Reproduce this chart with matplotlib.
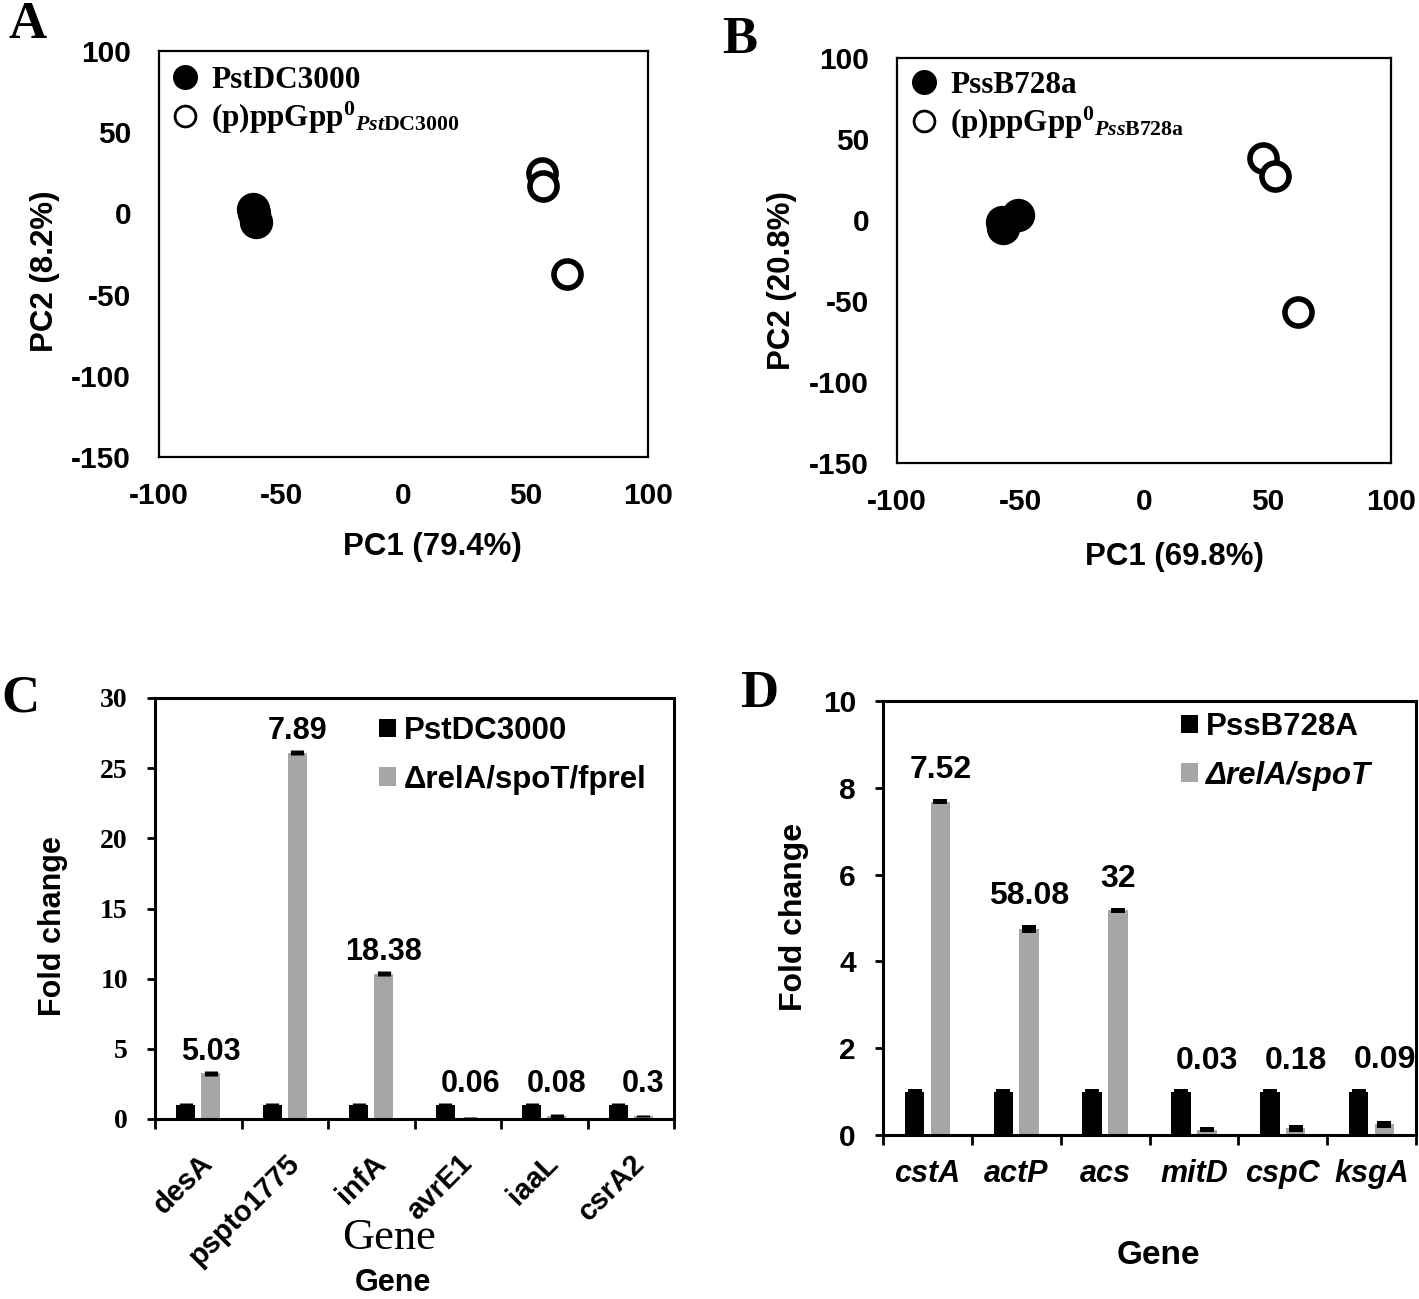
import numpy as np
import matplotlib
matplotlib.use("Agg")
import matplotlib.pyplot as plt
from matplotlib.lines import Line2D

plt.rcParams['font.family'] = ['Liberation Sans', 'DejaVu Sans']
plt.rcParams['font.weight'] = 'bold'
plt.rcParams['axes.labelweight'] = 'bold'
plt.rcParams['axes.unicode_minus'] = False
plt.rcParams['mathtext.fontset'] = 'custom'
plt.rcParams['mathtext.rm'] = 'Liberation Serif:bold'
plt.rcParams['mathtext.it'] = 'Liberation Serif:italic:bold'
plt.rcParams['mathtext.bf'] = 'Liberation Serif:bold'

SERIF = ['Liberation Serif', 'DejaVu Serif']
GREY = '#a6a6a6'

# A: PCA of PstDC3000 vs its (p)ppGpp0 mutant
a_wt_pc1 = [-61.5, -61.0, -60.5]
a_wt_pc2 = [3.0, 0.0, -5.0]
a_mut_pc1 = [56.5, 57.0, 67.0]
a_mut_pc2 = [25.0, 17.0, -37.5]
a_names = ['PstDC3000', r'(p)ppGpp$^{0}{}_{\mathit{Pst}\mathrm{DC3000}}$']

# B: PCA of PssB728a vs its (p)ppGpp0 mutant
b_wt_pc1 = [-51.0, -57.5, -57.0]
b_wt_pc2 = [3.0, -1.5, -5.0]
b_mut_pc1 = [48.0, 53.0, 62.5]
b_mut_pc2 = [38.5, 27.0, -56.5]
b_names = ['PssB728a', r'(p)ppGpp$^{0}{}_{\mathit{Pss}\mathrm{B728a}}$']

pc_xticks = [-100, -50, 0, 50, 100]
pc_yticks = [-150, -100, -50, 0, 50, 100]

# C: qRT-PCR fold change, Pst
c_genes = ['desA', 'pspto1775', 'infA', 'avrE1', 'iaaL', 'csrA2']
c_wt = [1.0, 1.0, 1.0, 1.0, 1.0, 1.0]
c_wt_err = [0.15, 0.15, 0.15, 0.15, 0.15, 0.15]
c_mut = [3.25, 26.1, 10.35, 0.08, 0.22, 0.22]
c_mut_err = [0.18, 0.18, 0.18, 0.05, 0.12, 0.1]
c_notes = ['5.03', '7.89', '18.38', '0.06', '0.08', '0.3']
c_names = ['PstDC3000', '\u0394relA/spoT/fprel']
c_yticks = [0, 5, 10, 15, 20, 25, 30]

# D: qRT-PCR fold change, Pss
d_genes = ['cstA', 'actP', 'acs', 'mitD', 'cspC', 'ksgA']
d_wt = [1.0, 1.0, 1.0, 1.0, 1.0, 1.0]
d_wt_err = [0.06, 0.06, 0.06, 0.05, 0.05, 0.07]
d_mut = [7.68, 4.74, 5.18, 0.12, 0.15, 0.25]
d_mut_err = [0.06, 0.09, 0.06, 0.06, 0.07, 0.08]
d_notes = ['7.52', '58.08', '32', '0.03', '0.18', '0.09']
d_names = ['PssB728A', '\u0394relA/spoT']
d_yticks = [0, 2, 4, 6, 8, 10]

W, H = 1419, 1299
fig = plt.figure(figsize=(W / 100, H / 100), dpi=100)

A_BOX = (159, 51, 648, 457)
B_BOX = (897, 58, 1391, 463)
C_BOX = (155, 698, 674, 1119)
D_BOX = (883, 701, 1416, 1135)


def add_ax(box):
    l, t, r, b = box
    return fig.add_axes([l / W, 1 - b / H, (r - l) / W, (b - t) / H])


def to_ax(box, px, py):
    l, t, r, b = box
    return (px - l) / (r - l), (b - py) / (b - t)


def pca_panel(ax, box, wt_x, wt_y, mut_x, mut_y, names, xlabel, ylabel, xl_pos, yl_pos, leg_pos):
    ax.plot(wt_x, wt_y, ls='none', marker='o', ms=23, mfc='black', mec='black', zorder=3)
    ax.plot(mut_x, mut_y, ls='none', marker='o', ms=19.5, mfc='white', mec='black', mew=4, zorder=3)
    ax.set_xlim(-100, 100)
    ax.set_ylim(-150, 100)
    ax.set_xticks(pc_xticks)
    ax.set_yticks(pc_yticks)
    ax.tick_params(length=0, labelsize=21.5)
    ax.tick_params(axis='x', pad=18)
    ax.tick_params(axis='y', pad=20)
    for s in ax.spines.values():
        s.set_linewidth(1.6)
    ax.set_xlabel(xlabel, fontsize=22.5, va='center')
    ax.set_ylabel(ylabel, fontsize=22.5, va='center')
    ax.xaxis.set_label_coords(*to_ax(box, *xl_pos))
    ax.yaxis.set_label_coords(*to_ax(box, *yl_pos))
    handles = [Line2D([], [], ls='none', marker='o', ms=17, mfc='black', mec='black'),
               Line2D([], [], ls='none', marker='o', ms=15, mfc='white', mec='black', mew=2)]
    ax.legend(handles, names, loc='upper left', bbox_to_anchor=to_ax(box, *leg_pos),
              frameon=False, borderpad=0, borderaxespad=0, handlelength=0.8,
              handletextpad=0.45, labelspacing=0.16,
              prop=dict(family=SERIF, weight='bold', size=22.5))


def bar_panel(ax, box, genes, wt, wt_err, mut, mut_err, notes, names, yticks, err_w,
              note_pad, note_size, leg_pos, leg_sp, leg_size):
    x = np.arange(len(genes))
    # thick error bars without caps look like the solid blocks of the original
    ek = dict(ecolor='black', elinewidth=err_w, capsize=0)
    ax.bar(x - 0.145, wt, 0.22, yerr=wt_err, color='black', error_kw=ek, label=names[0])
    ax.bar(x + 0.145, mut, 0.22, yerr=mut_err, color=GREY, error_kw=ek, label=names[1])
    for i, txt in enumerate(notes):
        top = max(wt[i] + wt_err[i], mut[i] + mut_err[i])
        ax.annotate(txt, (x[i] + 0.145, top), xytext=(0, note_pad), textcoords='offset points',
                    ha='center', va='bottom', fontsize=note_size)
    ax.set_xlim(-0.5, len(genes) - 0.5)
    ax.set_ylim(yticks[0], yticks[-1])
    ax.set_xticks(np.arange(len(genes) + 1) - 0.5)
    ax.set_xticklabels([])
    ax.tick_params(axis='x', which='major', direction='out', length=7, width=2)
    ax.tick_params(axis='x', which='minor', length=0)
    ax.tick_params(axis='y', direction='out', length=5.5, width=2, pad=14)
    for s in ax.spines.values():
        s.set_linewidth(2.2)
    leg = ax.legend(loc='upper left', bbox_to_anchor=to_ax(box, *leg_pos), frameon=False,
                    borderpad=0, borderaxespad=0, handlelength=0.55, handleheight=0.55,
                    handletextpad=0.25, labelspacing=leg_sp, fontsize=leg_size)
    return leg


# panels A and B
ax_a = add_ax(A_BOX)
pca_panel(ax_a, A_BOX, a_wt_pc1, a_wt_pc2, a_mut_pc1, a_mut_pc2, a_names,
          'PC1 (79.4%)', 'PC2 (8.2%)', (432, 547), (45, 271), (172, 66))
ax_b = add_ax(B_BOX)
pca_panel(ax_b, B_BOX, b_wt_pc1, b_wt_pc2, b_mut_pc1, b_mut_pc2, b_names,
          'PC1 (69.8%)', 'PC2 (20.8%)', (1174, 557), (782, 281), (911, 71))

# panel C
ax_c = add_ax(C_BOX)
bar_panel(ax_c, C_BOX, c_genes, c_wt, c_wt_err, c_mut, c_mut_err, c_notes, c_names,
          c_yticks, 9.5, 3, 22, (379, 716), 0.6, 22.5)
ax_c.set_yticks(c_yticks, [str(v) for v in c_yticks], fontfamily=SERIF, fontsize=20)
ax_c.set_xticks(np.arange(len(c_genes)), c_genes, minor=True, rotation=45, ha='right',
                va='top', rotation_mode='anchor', fontsize=21)
ax_c.tick_params(axis='x', which='minor', pad=22)
ax_c.set_ylabel('Fold change', fontsize=22, va='center')
ax_c.yaxis.set_label_coords(*to_ax(C_BOX, 53, 926))
fig.text(389 / W, 1 - 1238 / H, 'Gene', family=SERIF, weight='normal', fontsize=32,
         ha='center', va='center')
fig.text(393 / W, 1 - 1283 / H, 'Gene', fontsize=22, ha='center', va='center')

# panel D
ax_d = add_ax(D_BOX)
leg_d = bar_panel(ax_d, D_BOX, d_genes, d_wt, d_wt_err, d_mut, d_mut_err, d_notes, d_names,
                  d_yticks, 10, 10, 23, (1181, 712), 0.6, 22.5)
leg_d.get_texts()[1].set_fontstyle('italic')
ax_d.set_yticks(d_yticks, [str(v) for v in d_yticks], fontsize=21.5)
ax_d.set_xticks(np.arange(len(d_genes)), d_genes, minor=True, fontstyle='italic', fontsize=22)
ax_d.tick_params(axis='x', which='minor', pad=17)
ax_d.set_ylabel('Fold change', fontsize=23, va='center')
ax_d.yaxis.set_label_coords(*to_ax(D_BOX, 794, 917))
ax_d.set_xlabel('Gene', fontsize=24, va='center')
ax_d.xaxis.set_label_coords(*to_ax(D_BOX, 1158, 1255))

# panel letters
for letter, px, py in [('A', 28, 25), ('B', 740, 40), ('C', 20, 698), ('D', 759, 694)]:
    fig.text(px / W, 1 - py / H, letter, family=SERIF, fontsize=38, weight='bold',
             ha='center', va='center')

fig.savefig('out.png', dpi=100)
